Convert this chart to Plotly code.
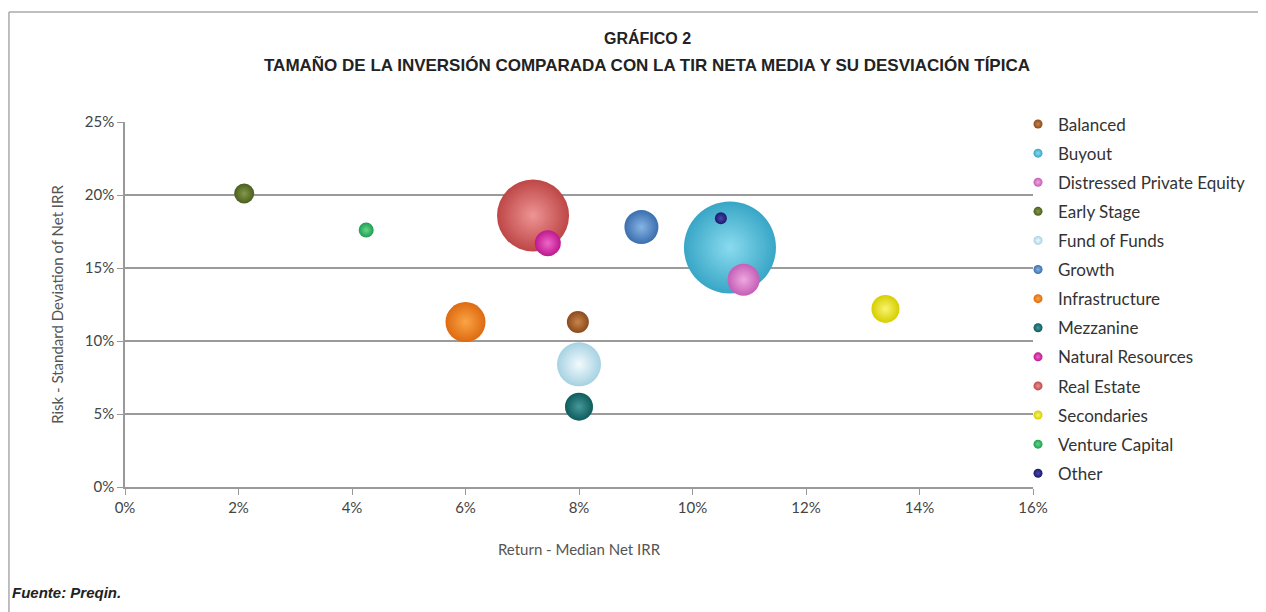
import plotly.graph_objects as go

# Datos (Preqin)
categorias = ["Balanced", "Buyout", "Distressed Private Equity", "Early Stage",
              "Fund of Funds", "Growth", "Infrastructure", "Mezzanine",
              "Natural Resources", "Real Estate", "Secondaries",
              "Venture Capital", "Other"]
retorno = [7.98, 10.66, 10.9, 2.1, 8.0, 9.1, 6.0, 8.0, 7.45, 7.19, 13.4, 4.25, 10.5]
riesgo = [11.3, 16.4, 14.2, 20.1, 8.4, 17.8, 11.3, 5.5, 16.7, 18.6, 12.2, 17.6, 18.4]
tamano = [22, 92, 32, 20, 44, 34, 40, 28, 26, 72, 28, 15, 12]

colores = ["#8B4A1C", "#38A6C6", "#C45EB6", "#4B5E1E", "#A6D2E2", "#3A6EAE",
           "#DE6A10", "#0E5C5C", "#BE1890", "#BE4646", "#D6CE00", "#1E9E50", "#1A1A70"]
brillos = ["#C8844A", "#8ADBEF", "#EEA8E0", "#83994A", "#F2FAFD", "#86B4E4",
           "#FAA446", "#46989A", "#EE66C6", "#EE9494", "#FAF470", "#66D68A", "#4848A8"]

# orden de dibujo: Real Estate detrás de Natural Resources
orden_dibujo = [0, 1, 2, 3, 4, 5, 6, 7, 9, 8, 10, 11, 12]

fuente = "Lato, 'Open Sans', sans-serif"
fuente_titulo = "'Liberation Sans Narrow', 'Liberation Sans', sans-serif"

fig = go.Figure()
for i in orden_dibujo:
    fig.add_trace(go.Scatter(
        x=[retorno[i] / 100], y=[riesgo[i] / 100],
        mode="markers",
        name=categorias[i],
        showlegend=False,
        legendgroup=categorias[i],
        marker=dict(size=tamano[i], sizemode="diameter", color=colores[i],
                    gradient=dict(type="radial", color=brillos[i]),
                    line=dict(width=0)),
    ))
# entradas de leyenda con marcador pequeño
for i, cat in enumerate(categorias):
    fig.add_trace(go.Scatter(
        x=[None], y=[None], mode="markers", name=cat,
        legendgroup=cat, legendrank=i + 1,
        marker=dict(size=9, color=colores[i],
                    gradient=dict(type="radial", color=brillos[i]),
                    line=dict(width=0)),
    ))

fig.update_xaxes(range=[0, 0.16], dtick=0.02, tickformat=".0%",
                 showgrid=False, showline=True, linecolor="#999", linewidth=1.5,
                 ticks="outside", ticklen=6, tickcolor="#999",
                 tickfont=dict(family=fuente, size=15, color="#444"),
                 title=dict(text="Return - Median Net IRR",
                            font=dict(family=fuente, size=15, color="#555"),
                            standoff=30),
                 zeroline=False, fixedrange=True)
fig.update_yaxes(range=[0, 0.25], dtick=0.05, tickformat=".0%",
                 showgrid=True, gridcolor="#9a9a9a", gridwidth=1.5,
                 showline=True, linecolor="#999", linewidth=1.5,
                 ticks="outside", ticklen=6, tickcolor="#999",
                 tickfont=dict(family=fuente, size=15, color="#444"),
                 title=dict(text="Risk - Standard Deviation of Net IRR",
                            font=dict(family=fuente, size=15, color="#555"),
                            standoff=18),
                 zeroline=False, fixedrange=True)

fig.update_layout(
    width=1258, height=604,
    margin=dict(l=117, r=233, t=114, b=125),
    plot_bgcolor="white", paper_bgcolor="white",
    showlegend=True,
    legend=dict(x=0.9835, y=1.0425, xanchor="left", yanchor="top",
                font=dict(family=fuente, size=17, color="#333"),
                tracegroupgap=4, itemwidth=30, maxheight=600,
                bgcolor="rgba(0,0,0,0)"),
    annotations=[
        dict(text="<b>GRÁFICO 2</b>", x=0.575, y=1.26, xref="paper", yref="paper",
             showarrow=False, font=dict(family=fuente_titulo, size=16, color="#222")),
        dict(text="<b>TAMAÑO DE LA INVERSIÓN COMPARADA CON LA TIR NETA MEDIA Y SU DESVIACIÓN TÍPICA</b>",
             x=0.575, y=1.19, xref="paper", yref="paper", showarrow=False,
             font=dict(family=fuente_titulo, size=17, color="#222")),
        dict(text="<b><i>Fuente: Preqin.</i></b>", x=-0.1267, y=-0.318, xref="paper",
             yref="paper", xanchor="left", showarrow=False,
             font=dict(family=fuente_titulo, size=15, color="#222")),
    ],
    shapes=[
        dict(type="line", xref="paper", yref="paper", x0=-0.1278, x1=1.3, y0=1.3014, y1=1.3014,
             line=dict(color="#aaa", width=1.5)),
        dict(type="line", xref="paper", yref="paper", x0=-0.1278, x1=-0.1278, y0=1.3014, y1=-0.4,
             line=dict(color="#aaa", width=1.5)),
    ],
)

fig.write_html("out.html")
